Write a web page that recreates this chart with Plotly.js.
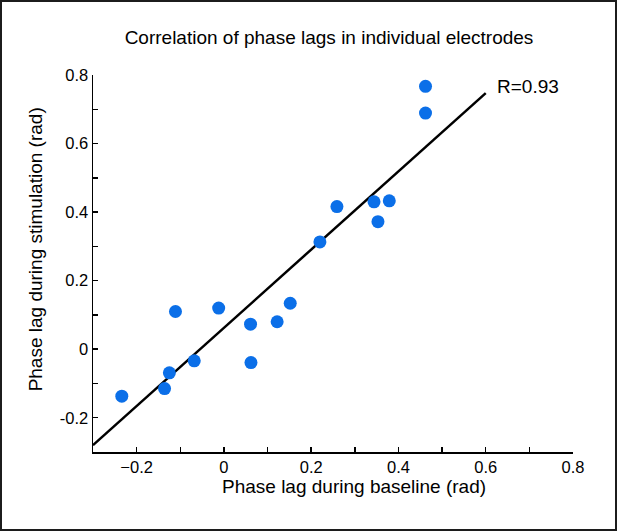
<!DOCTYPE html>
<html>
<head>
<meta charset="utf-8">
<script src="https://cdn.plot.ly/plotly-3.0.1.min.js"></script>
<style>
  html, body { margin: 0; padding: 0; background: #fff; }
  #wrap { position: relative; width: 617px; height: 531px; }
  #chart { position: absolute; left: 0; top: 0; width: 617px; height: 531px; }
  #frame { position: absolute; left: 0; top: 0; width: 617px; height: 531px;
           box-sizing: border-box; border: 2px solid #1c1c1c; pointer-events: none; }
</style>
</head>
<body>
<div id="wrap"><div id="chart"></div><div id="frame"></div></div>
<script>
// Data
const baselineLag = [-0.234, -0.136, -0.125, -0.111, -0.068, -0.012, 0.061, 0.062, 0.122, 0.152, 0.220, 0.259, 0.344, 0.353, 0.379, 0.462, 0.462];
const stimulationLag = [-0.137, -0.115, -0.069, 0.110, -0.034, 0.120, 0.073, -0.039, 0.080, 0.134, 0.313, 0.416, 0.430, 0.372, 0.433, 0.689, 0.767];
const fitX = [-0.3, 0.6];
const fitY = [-0.28, 0.747];
const tickVals = [-0.2, -0.1, 0, 0.1, 0.2, 0.3, 0.4, 0.5, 0.6, 0.7, 0.8];
const xTickText = ['\u22120.2', '', '0', '', '0.2', '', '0.4', '', '0.6', '', '0.8'];
const yTickText = ['-0.2', '', '0', '', '0.2', '', '0.4', '', '0.6', '', '0.8'];
const titleText = 'Correlation of phase lags in individual electrodes';
const xTitleText = 'Phase lag during baseline (rad)';
const yTitleText = 'Phase lag during stimulation (rad)';
const rText = 'R=0.93';

const FONT = 'Liberation Sans, Arial, Helvetica, sans-serif';

const traces = [
  {
    x: fitX, y: fitY, type: 'scatter', mode: 'lines',
    line: { color: '#000000', width: 2.5 }, hoverinfo: 'skip', showlegend: false
  },
  {
    x: baselineLag, y: stimulationLag, type: 'scatter', mode: 'markers',
    marker: { color: '#0b6fe8', size: 13, line: { width: 0 } }, showlegend: false
  }
];

const axisCommon = {
  range: [-0.3, 0.8],
  tickmode: 'array',
  tickvals: tickVals,
  showline: true, linecolor: '#000', linewidth: 1.5,
  ticks: 'inside', ticklen: 5, tickwidth: 1.5, tickcolor: '#000',
  showgrid: false, zeroline: false, automargin: false,
  tickfont: { family: FONT, size: 16.5, color: '#000' },
  fixedrange: true
};

const layout = {
  width: 617, height: 531,
  margin: { l: 93, r: 43.7, t: 75, b: 79.3, pad: 0 },
  paper_bgcolor: '#fff', plot_bgcolor: '#fff',
  showlegend: false,
  title: {
    text: titleText, xref: 'container', x: 329 / 617, xanchor: 'center',
    yref: 'container', y: 1 - 37.3 / 531, yanchor: 'middle',
    font: { family: FONT, size: 19, color: '#000' }
  },
  xaxis: Object.assign({}, axisCommon, { ticktext: xTickText }),
  yaxis: Object.assign({}, axisCommon, { ticktext: yTickText }),
  annotations: [
    { text: xTitleText, xref: 'paper', yref: 'paper', x: (354 - 93) / 480.3, y: (451.7 - 486.4) / 376.7,
      xanchor: 'center', yanchor: 'middle', showarrow: false,
      font: { family: FONT, size: 19, color: '#000' } },
    { text: yTitleText, xref: 'paper', yref: 'paper', x: (35 - 93) / 480.3, y: (451.7 - 249.2) / 376.7,
      xanchor: 'center', yanchor: 'middle', textangle: -90, showarrow: false,
      font: { family: FONT, size: 19, color: '#000' } },
    { text: rText, xref: 'paper', yref: 'paper', x: (495.5 - 93) / 480.3, y: (451.7 - 86.6) / 376.7,
      xanchor: 'left', yanchor: 'middle', showarrow: false,
      font: { family: FONT, size: 19, color: '#000' } }
  ]
};

Plotly.newPlot('chart', traces, layout, { displayModeBar: false, staticPlot: true });
</script>
</body>
</html>
